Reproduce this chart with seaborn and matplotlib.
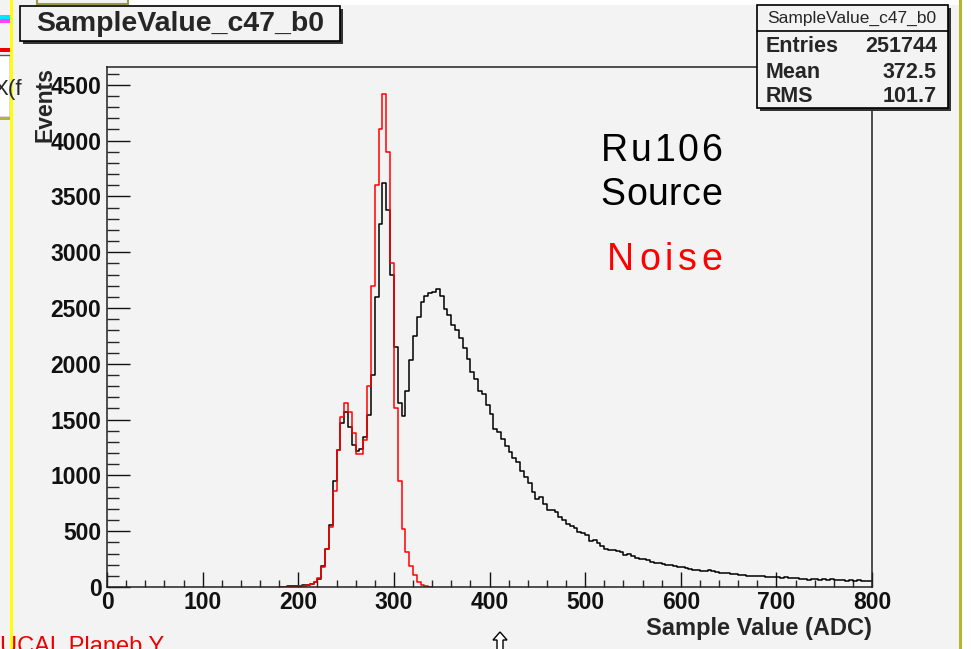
# Histograma SampleValue_c47_b0: fuente Ru106 vs ruido

import numpy as np
import pandas as pd
import matplotlib
matplotlib.use("Agg")
import matplotlib.pyplot as plt
import seaborn as sns
from matplotlib.patches import Rectangle, Polygon
from matplotlib.ticker import MultipleLocator

# bins de 4 ADC, borde izquierdo del primer bin
bin_start = 180
bin_width = 4

# Ru106 source (negro), bins 180..796
source_counts = [
    3, 4, 6, 8, 10, 12, 15, 22, 30, 45,
    75, 190, 340, 560, 950, 1230, 1470, 1570, 1430, 1270,
    1215, 1240, 1340, 1540, 1900, 2600, 3250, 3620, 3380, 2800,
    2150, 1650, 1535, 1760, 2030, 2250, 2420, 2550, 2610, 2635,
    2645, 2675, 2610, 2490, 2440, 2350, 2300, 2230, 2140, 2040,
    1930, 1860, 1760, 1730, 1630, 1550, 1420, 1390, 1330, 1260,
    1210, 1160, 1120, 1040, 990, 930, 850, 790, 810, 740,
    690, 690, 670, 630, 600, 565, 545, 525, 495, 481,
    465, 410, 420, 391, 365, 345, 331, 331, 320, 310,
    290, 300, 275, 258, 255, 250, 242, 225, 218, 212,
    206, 200, 197, 190, 182, 176, 168, 160, 155, 150,
    146, 145, 155, 140, 130, 128, 126, 124, 120, 114,
    108, 106, 100, 98, 95, 100, 96, 92, 90, 88,
    86, 84, 88, 82, 78, 78, 76, 70, 66, 72,
    68, 66, 70, 64, 68, 62, 60, 64, 58, 62,
    56, 60, 55, 58, 50,
]

# ruido (rojo), bins 180..336
noise_counts = [
    0, 0, 1, 2, 3, 5, 8, 14, 25, 45,
    85, 180, 340, 540, 860, 1230, 1520, 1650, 1570, 1380,
    1190, 1190, 1320, 1800, 2700, 3600, 4100, 4420, 3900, 2900,
    1600, 950, 520, 310, 190, 110, 45, 18, 6, 2,
]

title = "SampleValue_c47_b0"
stats_rows = [("Entries", "251744"), ("Mean", "372.5"), ("RMS", "101.7")]

W, H = 971, 649
BG = "#f3f3f3"


def fx(x):
    return x / W


def fy(y):
    return 1 - y / H


def box(fig, x0, y0, x1, y1, shadow=0, face=BG, edge="black", lw=1.2, z=5):
    if shadow:
        fig.add_artist(Rectangle((fx(x0 + shadow), fy(y1 + shadow)), (x1 - x0) / W, (y1 - y0) / H,
                                 transform=fig.transFigure, facecolor="#333333",
                                 edgecolor="none", zorder=z - 0.1))
    fig.add_artist(Rectangle((fx(x0), fy(y1)), (x1 - x0) / W, (y1 - y0) / H,
                             transform=fig.transFigure, facecolor=face,
                             edgecolor=edge, linewidth=lw, zorder=z))


def tracked_text(fig, x_right, y_base, s, track, **kw):
    # texto con espaciado extra entre letras (como en el canvas de ROOT)
    r = fig.canvas.get_renderer()

    def width(t):
        tmp = fig.text(0, 0, t, **kw)
        w = tmp.get_window_extent(r).width
        tmp.remove()
        return w

    x0 = x_right - (width(s) + track * (len(s) - 1))
    for i, ch in enumerate(s):
        xi = x0 + (width(s[:i]) if i else 0) + track * i
        fig.text(fx(xi), fy(y_base), ch, ha="left", va="baseline", **kw)


def hist_frame(counts):
    lo = bin_start + bin_width * np.arange(len(counts))
    df = pd.DataFrame({"adc": lo + bin_width / 2, "n": counts})
    return df, (float(lo[0]), float(lo[-1] + bin_width))


sns.set_style("ticks")
plt.rcParams["font.family"] = ["Liberation Sans", "DejaVu Sans"]

fig = plt.figure(figsize=(W / 100, H / 100), dpi=100, facecolor=BG)
ax = fig.add_axes([fx(107), fy(587), (872 - 107) / W, (587 - 67) / H])
ax.set_facecolor(BG)

src_df, src_range = hist_frame(source_counts)
noi_df, noi_range = hist_frame(noise_counts)
sns.histplot(data=src_df, x="adc", weights="n", binwidth=bin_width, binrange=src_range,
             element="step", fill=False, color="black", linewidth=1.1, ax=ax)
sns.histplot(data=noi_df, x="adc", weights="n", binwidth=bin_width, binrange=noi_range,
             element="step", fill=False, color="#ff0000", linewidth=1.1, ax=ax)

ax.set_xlim(0, 800)
ax.set_ylim(0, 4660)
ax.set_xlabel("")
ax.set_ylabel("")
ax.xaxis.set_major_locator(MultipleLocator(100))
ax.xaxis.set_minor_locator(MultipleLocator(20))
ax.yaxis.set_major_locator(MultipleLocator(500))
ax.yaxis.set_minor_locator(MultipleLocator(100))
ax.tick_params(axis="x", which="major", direction="in", length=10.8, width=1, pad=3,
               labelsize=16.5, colors="#111111")
ax.tick_params(axis="x", which="minor", direction="in", length=5.4, width=1)
ax.tick_params(axis="y", which="major", direction="in", length=16.5, width=1, pad=4,
               labelsize=16.5, colors="#111111")
ax.tick_params(axis="y", which="minor", direction="in", length=8.3, width=1)
for lab in ax.get_xticklabels() + ax.get_yticklabels():
    lab.set_fontweight("bold")
for sp in ax.spines.values():
    sp.set_linewidth(1.1)
    sp.set_color("#222222")

# textos dentro del pad
tracked_text(fig, 722, 161, "Ru106", 2.7, fontsize=27, color="black")
tracked_text(fig, 722, 205, "Source", 0.6, fontsize=27, color="black")
tracked_text(fig, 722, 270, "Noise", 4.7, fontsize=27, color="#ff0000")

# ejes
fig.text(fx(45), fy(67), "Events", rotation=90, ha="center", va="top",
         fontsize=16.5, fontweight="bold")
fig.text(fx(872), fy(629), "Sample Value (ADC)", ha="right", va="center",
         fontsize=17, fontweight="bold")

# caja de titulo
box(fig, 20, 6, 340, 41, shadow=3)
fig.text(fx(180), fy(24), title, ha="center", va="center", fontsize=20.5,
         fontweight="bold", zorder=6)

# caja de estadisticas
box(fig, 757, 5, 948, 108, shadow=3)
fig.add_artist(plt.Line2D([fx(757), fx(948)], [fy(31), fy(31)], transform=fig.transFigure,
                          color="black", linewidth=1.2, zorder=6))
fig.text(fx(852), fy(18), title, ha="center", va="center", fontsize=12.5, zorder=6)
for i, (k, v) in enumerate(stats_rows):
    yy = fy(47 + 25 * i)
    fig.text(fx(766), yy, k, ha="left", va="center", fontsize=15.5, fontweight="bold", zorder=6)
    fig.text(fx(937), yy, v, ha="right", va="center", fontsize=15.5, fontweight="bold", zorder=6)

# restos de la captura de pantalla
box(fig, 128, -2, 971, 5, face="white", edge="none", lw=0, z=1)
box(fig, 37, -2, 128, 4, face=BG, edge="#9a9a40", lw=1.5, z=1)
box(fig, -2, 55, 10, 117, face="white", edge="#555555", lw=1, z=1)
box(fig, -2, 117, 10, 120, face="#b5b530", edge="none", lw=0, z=1)
box(fig, -2, 15, 10, 19, face="#00e5ff", edge="none", lw=0, z=1)
box(fig, -2, 19, 10, 23, face="#ff44ff", edge="none", lw=0, z=1)
box(fig, -2, 48, 10, 52, face="#ee0000", edge="none", lw=0, z=1)
box(fig, 10, -2, 13, H + 2, face="#ffff00", edge="none", lw=0, z=1)
box(fig, 961, -2, 973, H + 2, face="white", edge="none", lw=0, z=1)
box(fig, 959, -2, 961.5, H + 2, face="#b5b530", edge="none", lw=0, z=1)
fig.text(fx(-6), fy(90), "X(f", ha="left", va="center", fontsize=16, zorder=2)
fig.text(fx(0), fy(636), "UCAL Planeb Y", ha="left", va="top", fontsize=17, color="#ee0000")
arrow = [(500, 632), (507, 640), (503, 640), (503, 652), (497, 652), (497, 640), (493, 640)]
fig.add_artist(Polygon([(fx(a), fy(b)) for a, b in arrow], closed=True, transform=fig.transFigure,
                       facecolor="white", edgecolor="black", linewidth=1, zorder=6))

fig.savefig("out.png", dpi=100, facecolor=BG)
